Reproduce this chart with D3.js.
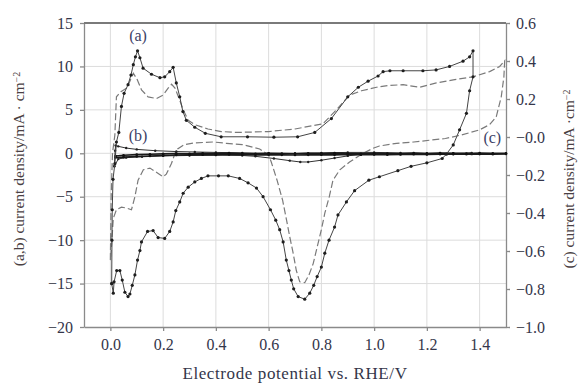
<!DOCTYPE html>
<html>
<head>
<meta charset="utf-8">
<script src="https://cdn.jsdelivr.net/npm/d3@7"></script>
<style>
  body { margin: 0; background: #fff; }
  text { font-family: "Liberation Serif", "DejaVu Serif", serif; }
</style>
</head>
<body>
<svg id="cv-chart"></svg>
<script>
// Tick values
const xTicks = [0.0, 0.2, 0.4, 0.6, 0.8, 1.0, 1.2, 1.4];
const leftTicks = [-20, -15, -10, -5, 0, 5, 10, 15];
const rightTicks = [-1.0, -0.8, -0.6, -0.4, -0.2, 0.0, 0.2, 0.4, 0.6];

// Curve (a): solid line with markers (left axis)
const aPot = [0.005, 0.006, 0.007, 0.010, 0.017, 0.023, 0.032, 0.042, 0.052, 0.067, 0.078, 0.087, 0.095, 0.103, 0.112, 0.124, 0.156, 0.188, 0.206, 0.225, 0.238, 0.250, 0.263, 0.275, 0.288, 0.320, 0.360, 0.420, 0.520, 0.620, 0.710, 0.775, 0.838, 0.900, 0.940, 0.977, 1.015, 1.034, 1.060, 1.110, 1.185, 1.235, 1.286, 1.337, 1.362, 1.375,
  1.375, 1.362, 1.350, 1.324, 1.300, 1.274, 1.258, 1.200, 1.140, 1.090, 1.020, 0.980, 0.926, 0.895, 0.863, 0.850, 0.829, 0.813, 0.800, 0.784, 0.771, 0.756, 0.737, 0.712, 0.695, 0.686, 0.677, 0.667, 0.655, 0.642, 0.627, 0.607, 0.579, 0.554, 0.522, 0.490, 0.447, 0.410, 0.370, 0.345, 0.320, 0.295, 0.276, 0.263, 0.248, 0.238, 0.225, 0.206, 0.181, 0.162, 0.141, 0.118, 0.112, 0.103, 0.093, 0.083, 0.074, 0.067, 0.055, 0.045, 0.036, 0.024, 0.014, 0.011, 0.005];
const aCur = [-15.0, -10.0, -6.5, -3.0, -1.2, 1.3, 2.4, 5.4, 6.9, 7.9, 9.0, 10.2, 11.1, 11.8, 11.0, 9.8, 9.1, 8.7, 8.8, 9.4, 9.9, 8.1, 6.5, 4.8, 3.8, 3.0, 2.3, 1.9, 1.9, 1.85, 1.9, 2.4, 4.0, 6.5, 7.6, 8.3, 8.9, 9.4, 9.5, 9.5, 9.5, 9.6, 10.0, 10.6, 11.1, 11.8,
  8.8, 7.2, 4.6, 2.7, 0.96, -0.1, -0.6, -1.1, -1.5, -2.0, -2.7, -3.1, -4.3, -5.6, -7.1, -8.5, -10.0, -11.5, -13.1, -14.2, -15.2, -16.1, -16.8, -16.5, -15.6, -14.6, -13.5, -12.3, -10.2, -8.8, -7.7, -6.5, -5.0, -4.0, -3.4, -2.9, -2.6, -2.6, -2.6, -2.9, -3.3, -3.9, -4.6, -5.6, -6.6, -7.9, -9.0, -9.8, -9.7, -8.9, -9.0, -10.2, -11.2, -12.3, -14.0, -15.2, -16.2, -16.5, -16.0, -14.6, -13.5, -13.5, -14.8, -16.1, -15.0];

// Curve (a'): dashed line (left axis)
const a2Pot = [0.000, 0.003, 0.008, 0.017, 0.023, 0.040, 0.061, 0.074, 0.087, 0.100, 0.118, 0.143, 0.175, 0.200, 0.219, 0.232, 0.245, 0.263, 0.276, 0.295, 0.320, 0.370, 0.420, 0.480, 0.600, 0.700, 0.806, 0.857, 0.907, 0.952, 1.009, 1.055, 1.110, 1.173, 1.236, 1.300, 1.375, 1.438, 1.476, 1.495,
  1.492, 1.482, 1.463, 1.438, 1.400, 1.330, 1.270, 1.210, 1.150, 1.085, 1.020, 0.996, 0.958, 0.907, 0.870, 0.844, 0.830, 0.813, 0.800, 0.784, 0.769, 0.753, 0.737, 0.718, 0.705, 0.693, 0.680, 0.668, 0.653, 0.632, 0.610, 0.600, 0.566, 0.500, 0.440, 0.390, 0.320, 0.280, 0.255, 0.245, 0.232, 0.212, 0.200, 0.180, 0.150, 0.125, 0.105, 0.093, 0.080, 0.061, 0.042, 0.023, 0.011, 0.005, 0.000];
const a2Cur = [-12.3, -5.0, 0.0, 2.1, 6.5, 7.1, 7.5, 8.3, 9.2, 8.6, 7.3, 6.5, 6.3, 6.7, 7.5, 7.95, 7.5, 6.1, 5.0, 3.8, 3.3, 2.8, 2.5, 2.4, 2.5, 2.8, 3.4, 5.0, 6.7, 7.2, 7.6, 7.8, 7.9, 7.6, 8.1, 8.45, 8.8, 9.4, 10.0, 10.65,
  8.8, 6.5, 4.2, 3.3, 2.7, 2.1, 1.7, 1.5, 1.3, 1.15, 0.84, 0.58, 0.0, -1.0, -1.9, -3.1, -5.0, -6.9, -8.8, -10.8, -12.7, -14.0, -14.9, -14.8, -13.5, -11.5, -9.6, -7.7, -5.4, -3.1, -1.0, -0.2, 0.5, 1.0, 1.15, 1.3, 1.2, 1.0, 0.5, 0.0, -1.15, -2.4, -2.7, -2.3, -1.7, -1.9, -3.1, -5.0, -6.5, -6.3, -6.2, -6.5, -7.5, -10.4, -12.3];

// Curve (b): small loop with markers (left axis)
const bPot = [0.015, 0.018, 0.020, 0.030, 0.060, 0.100, 0.170, 0.250, 0.320, 0.400, 0.500, 0.600, 0.700, 0.800, 0.900, 1.000, 1.100, 1.200, 1.300, 1.370,
  1.370, 1.300, 1.200, 1.100, 1.000, 0.950, 0.900, 0.850, 0.800, 0.750, 0.720, 0.680, 0.620, 0.550, 0.500, 0.400, 0.300, 0.200, 0.120, 0.060, 0.030, 0.015];
const bCur = [-1.5, 0.3, 0.9, 0.8, 0.6, 0.45, 0.3, 0.2, 0.15, 0.1, 0.05, 0.0, 0.0, 0.05, 0.1, 0.1, 0.05, 0.0, 0.0, 0.05,
  -0.1, -0.1, -0.1, -0.1, -0.1, -0.1, -0.3, -0.55, -0.8, -1.0, -1.0, -0.85, -0.6, -0.35, -0.25, -0.2, -0.25, -0.3, -0.4, -0.5, -0.65, -1.5];

// Curve (c): flat noisy loop (right axis)
const cPot = [0.02, 0.05, 0.10, 0.15, 0.20, 0.25, 0.30, 0.35, 0.40, 0.45, 0.50, 0.55, 0.60, 0.65, 0.70, 0.75, 0.80, 0.85, 0.90, 0.95, 1.00, 1.05, 1.10, 1.15, 1.20, 1.25, 1.30, 1.35, 1.40, 1.45, 1.50];
const cUp = [-0.100, -0.096, -0.093, -0.091, -0.089, -0.087, -0.088, -0.086, -0.087, -0.085, -0.087, -0.088, -0.086, -0.087, -0.088, -0.086, -0.087, -0.085, -0.087, -0.088, -0.086, -0.087, -0.088, -0.085, -0.087, -0.084, -0.086, -0.087, -0.084, -0.086, -0.086];
const cDown = [-0.108, -0.106, -0.103, -0.100, -0.097, -0.095, -0.094, -0.093, -0.094, -0.092, -0.093, -0.094, -0.093, -0.094, -0.095, -0.094, -0.093, -0.094, -0.092, -0.093, -0.092, -0.093, -0.092, -0.091, -0.092, -0.091, -0.090, -0.091, -0.090, -0.091, -0.089];

// Set up SVG dimensions and margins
const margin = { top: 23, right: 74, bottom: 61, left: 84 };
const width = 580 - margin.left - margin.right;
const height = 388 - margin.top - margin.bottom;

const svg = d3.select('#cv-chart')
  .attr('width', 580)
  .attr('height', 388)
  .append('g')
  .attr('transform', `translate(${margin.left}, ${margin.top})`);

// Scales
const xScale = d3.scaleLinear().domain([-0.1, 1.5]).range([0, width]);
const yLeft = d3.scaleLinear().domain([-20, 15]).range([height, 0]);
const yRight = d3.scaleLinear().domain([-1.0, 0.6]).range([height, 0]);

const textColor = '#34364a';
const axisColor = '#8a8a8a';

// Grid lines
svg.append('g')
  .selectAll('line')
  .data(xTicks)
  .join('line')
  .attr('x1', d => xScale(d)).attr('x2', d => xScale(d))
  .attr('y1', 0).attr('y2', height)
  .attr('stroke', '#dcdcdc').attr('stroke-width', 1);

svg.append('g')
  .selectAll('line')
  .data(leftTicks.filter(d => d > -20 && d < 15))
  .join('line')
  .attr('x1', 0).attr('x2', width)
  .attr('y1', d => yLeft(d)).attr('y2', d => yLeft(d))
  .attr('stroke', '#dcdcdc').attr('stroke-width', 1);

// Axes
function styleAxis(g) {
  g.selectAll('path, line').attr('stroke', axisColor).attr('stroke-width', 1.3);
  g.selectAll('text')
    .attr('fill', textColor)
    .style('font-size', '16px')
    .style('font-family', '"Liberation Serif", serif');
}

const minusFmt = d => (d < 0 || d === 0 ? '\u2212' : '') + Math.abs(d).toFixed(1);

svg.append('g')
  .attr('transform', `translate(0, ${height})`)
  .call(d3.axisBottom(xScale).tickValues(xTicks).tickFormat(d3.format('.1f')).tickSize(4).tickSizeOuter(0).tickPadding(8))
  .call(styleAxis);

svg.append('g')
  .call(d3.axisLeft(yLeft).tickValues(leftTicks).tickFormat(d => d < 0 ? '\u2212' + Math.abs(d) : d).tickSize(4).tickSizeOuter(0).tickPadding(7))
  .call(styleAxis);

svg.append('g')
  .attr('transform', `translate(${width}, 0)`)
  .call(d3.axisRight(yRight).tickValues(rightTicks).tickFormat(d => d > 0 ? d.toFixed(1) : minusFmt(d)).tickSize(4).tickSizeOuter(0).tickPadding(6))
  .call(styleAxis);

// Top frame line
svg.append('line')
  .attr('x1', 0).attr('x2', width)
  .attr('y1', 0).attr('y2', 0)
  .attr('stroke', '#7a7a7a').attr('stroke-width', 2);

// Line generators
const lineLeft = d3.line().x(d => xScale(d[0])).y(d => yLeft(d[1]));
const lineRight = d3.line().x(d => xScale(d[0])).y(d => yRight(d[1]));

const aData = aPot.map((p, i) => [p, aCur[i]]);
const a2Data = a2Pot.map((p, i) => [p, a2Cur[i]]);
const bData = bPot.map((p, i) => [p, bCur[i]]);
const cUpData = cPot.map((p, i) => [p, cUp[i]]);
const cDownData = cPot.map((p, i) => [p, cDown[i]]);

// Dashed curve (a')
svg.append('path')
  .datum(a2Data)
  .attr('fill', 'none')
  .attr('stroke', '#7a7a7a')
  .attr('stroke-width', 1.2)
  .attr('stroke-dasharray', '7,3')
  .attr('d', lineLeft);

// Curve (b)
svg.append('path')
  .datum(bData)
  .attr('fill', 'none')
  .attr('stroke', '#333')
  .attr('stroke-width', 1)
  .attr('d', lineLeft);

svg.append('g')
  .selectAll('circle')
  .data(bData)
  .join('circle')
  .attr('cx', d => xScale(d[0]))
  .attr('cy', d => yLeft(d[1]))
  .attr('r', 1.2)
  .attr('fill', '#222');

// Curve (c), right axis
[cUpData, cDownData].forEach(data => {
  svg.append('path')
    .datum(data)
    .attr('fill', 'none')
    .attr('stroke', '#1a1a1a')
    .attr('stroke-width', 1.6)
    .attr('d', lineRight);

  svg.append('g')
    .selectAll('circle')
    .data(data)
    .join('circle')
    .attr('cx', d => xScale(d[0]))
    .attr('cy', d => yRight(d[1]))
    .attr('r', 1.3)
    .attr('fill', '#111');
});

// Curve (a) with markers
svg.append('path')
  .datum(aData)
  .attr('fill', 'none')
  .attr('stroke', '#444')
  .attr('stroke-width', 1)
  .attr('d', lineLeft);

svg.append('g')
  .selectAll('circle')
  .data(aData)
  .join('circle')
  .attr('cx', d => xScale(d[0]))
  .attr('cy', d => yLeft(d[1]))
  .attr('r', 1.6)
  .attr('fill', '#1e1e1e');

// Curve labels
const labels = [
  { text: '(a)', x: 0.105, y: 13.6 },
  { text: '(b)', x: 0.105, y: 2.1 },
  { text: '(c)', x: 1.448, y: 1.8 }
];
svg.append('g')
  .selectAll('text')
  .data(labels)
  .join('text')
  .attr('x', d => xScale(d.x))
  .attr('y', d => yLeft(d.y))
  .attr('dy', '0.35em')
  .attr('text-anchor', 'middle')
  .attr('fill', '#3c3f66')
  .style('font-size', '16px')
  .text(d => d.text);

// X-axis title
svg.append('text')
  .attr('x', 211)
  .attr('y', height + 52)
  .attr('text-anchor', 'middle')
  .attr('fill', textColor)
  .style('font-size', '17px')
  .style('letter-spacing', '0.6px')
  .text('Electrode potential vs. RHE/V');

// Left axis title
const leftTitle = svg.append('text')
  .attr('transform', `translate(${-65}, ${height / 2 - 6}) rotate(-90)`)
  .attr('dy', '0.35em')
  .attr('text-anchor', 'middle')
  .attr('fill', '#4a3f44')
  .style('font-size', '15.5px');
leftTitle.append('tspan').text('(a,b) current density/mA \u00b7 cm');
leftTitle.append('tspan').attr('dy', '-0.45em').style('font-size', '10px').text('\u22122');

// Right axis title
const rightTitle = svg.append('text')
  .attr('transform', `translate(${width + 63}, ${height / 2 + 4}) rotate(-90)`)
  .attr('dy', '0.35em')
  .attr('text-anchor', 'middle')
  .attr('fill', '#4a3f44')
  .style('font-size', '15.5px');
rightTitle.append('tspan').text('(c) current density/mA \u00b7cm');
rightTitle.append('tspan').attr('dy', '-0.45em').style('font-size', '10px').text('\u22122');
</script>
</body>
</html>
